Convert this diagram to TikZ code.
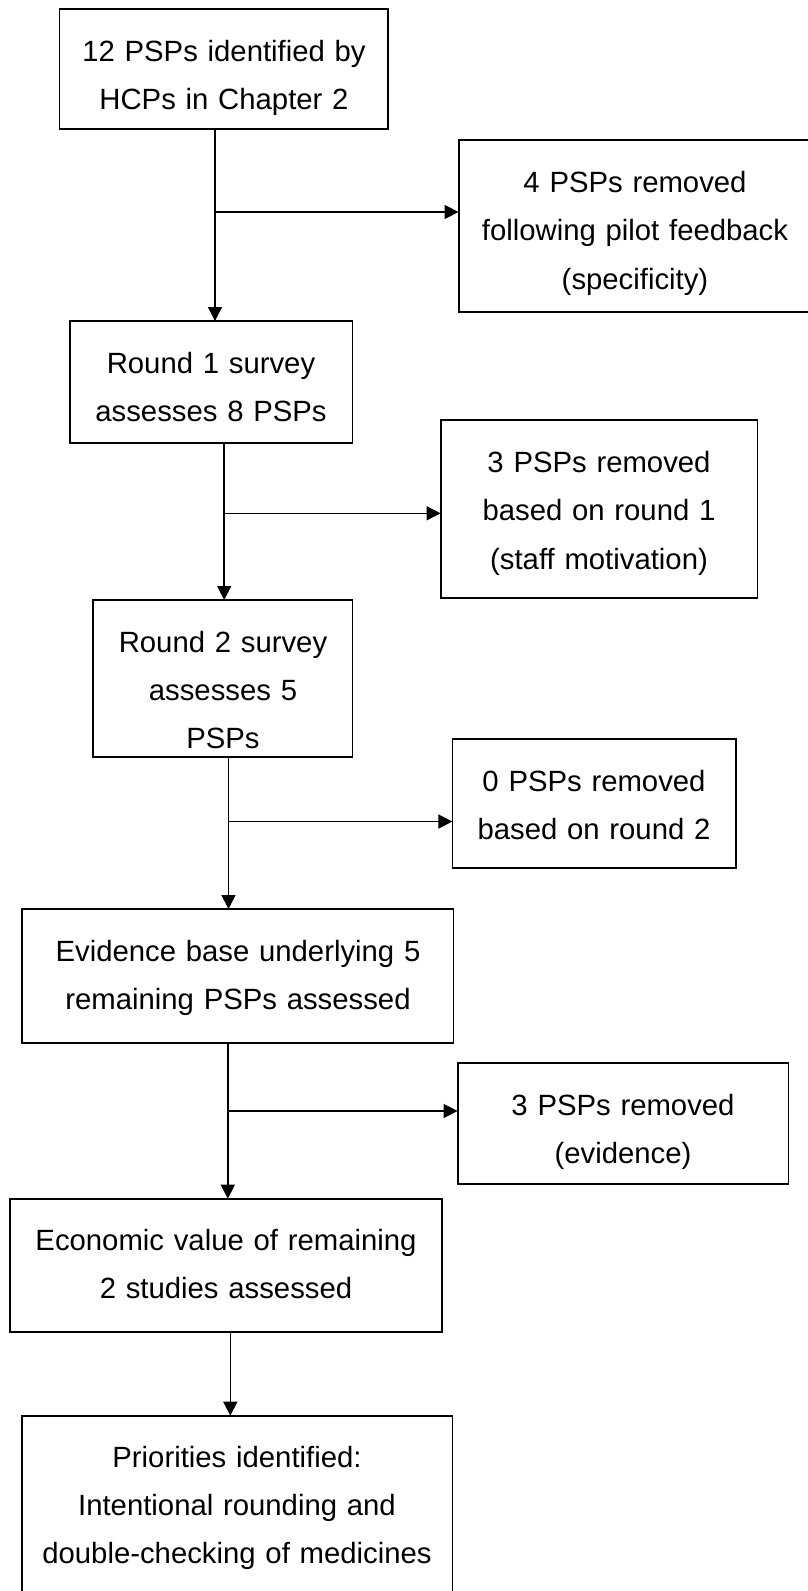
\documentclass[tikz,border=0pt]{standalone}
\usepackage{fontspec}
\setmainfont{Liberation Sans}
\usetikzlibrary{arrows.meta}

\begin{document}
\begin{tikzpicture}[x=1pt, y=-1pt,
  stagebox/.style={draw=black, line width=1.8pt, rectangle, inner sep=0pt, outer sep=0pt, anchor=north west},
  label/.style={anchor=base, inner sep=0pt, text width=440pt, align=center,
    font=\fontsize{29.3}{48.2}\selectfont},
  link/.style={draw=black, line width=1.5pt},
  flow/.style={link, -{Triangle[length=14pt, width=14pt]}}
]
\useasboundingbox (0,0) rectangle (808,1591);
\clip (0,0) rectangle (808,1591);

% main stages (left column)
\node[stagebox, minimum width=328.5pt, minimum height=120pt] (A) at (59.5,9) {};
\node[stagebox, minimum width=282.5pt, minimum height=122.3pt] (C) at (70,321) {};
\node[stagebox, minimum width=259.2pt, minimum height=157.3pt] (E) at (93.3,600) {};
\node[stagebox, minimum width=431.3pt, minimum height=133.7pt] (G) at (22.2,909) {};
\node[stagebox, minimum width=431.7pt, minimum height=133.6pt] (I) at (10.3,1198.7) {};
\node[stagebox, minimum width=430.8pt, minimum height=190pt] (J) at (21.6,1415.7) {};

% exclusions (right column)
\node[stagebox, minimum width=353pt, minimum height=172pt] (B) at (458.6,140) {};
\node[stagebox, minimum width=316.9pt, minimum height=178pt] (D) at (440.6,419.7) {};
\node[stagebox, minimum width=283.5pt, minimum height=128.7pt] (F) at (452.4,739) {};
\node[stagebox, minimum width=330.8pt, minimum height=121.6pt] (H) at (457.6,1062.7) {};

% box texts
\node[label] (tA) at (224,61) {12 PSPs identified by\\HCPs in Chapter 2};
\node[label] (tB) at (635,192.7) {4 PSPs removed\\following pilot feedback\\(specificity)};
\node[label] (tC) at (211,373.3) {Round 1 survey\\assesses 8 PSPs};
\node[label] (tD) at (599,472.7) {3 PSPs removed\\based on round 1\\(staff motivation)};
\node[label] (tE) at (223,652.3) {Round 2 survey\\assesses 5\\PSPs};
\node[label] (tF) at (594,791.7) {0 PSPs removed\\based on round 2};
\node[label] (tG) at (238,961.7) {Evidence base underlying 5\\remaining PSPs assessed};
\node[label] (tH) at (623,1115) {3 PSPs removed\\(evidence)};
\node[label] (tI) at (226,1250) {Economic value of remaining\\2 studies assessed};
\node[label] (tJ) at (237,1467.3) {Priorities identified:\\Intentional rounding and\\double-checking of medicines};

% junctions on the vertical flow lines
\coordinate (j1) at (215,212);
\coordinate (j2) at (224.2,513.3);
\coordinate (j3) at (228.5,821.5);
\coordinate (j4) at (227.8,1111);
\coordinate (j5) at (230.3,1370);

% vertical flow
\draw[flow] (A.south -| j1) -- (j1 |- C.north);
\draw[flow] (C.south -| j2) -- (j2 |- E.north);
\draw[flow] (E.south -| j3) -- (j3 |- G.north);
\draw[flow] (G.south -| j4) -- (j4 |- I.north);
\draw[flow] (I.south -| j5) -- (j5 |- J.north);

% side branches to the exclusion boxes
\draw[flow] (j1) -- (j1 -| B.west);
\draw[flow] (j2) -- (j2 -| D.west);
\draw[flow] (j3) -- (j3 -| F.west);
\draw[flow] (j4) -- (j4 -| H.west);
\end{tikzpicture}
\end{document}
